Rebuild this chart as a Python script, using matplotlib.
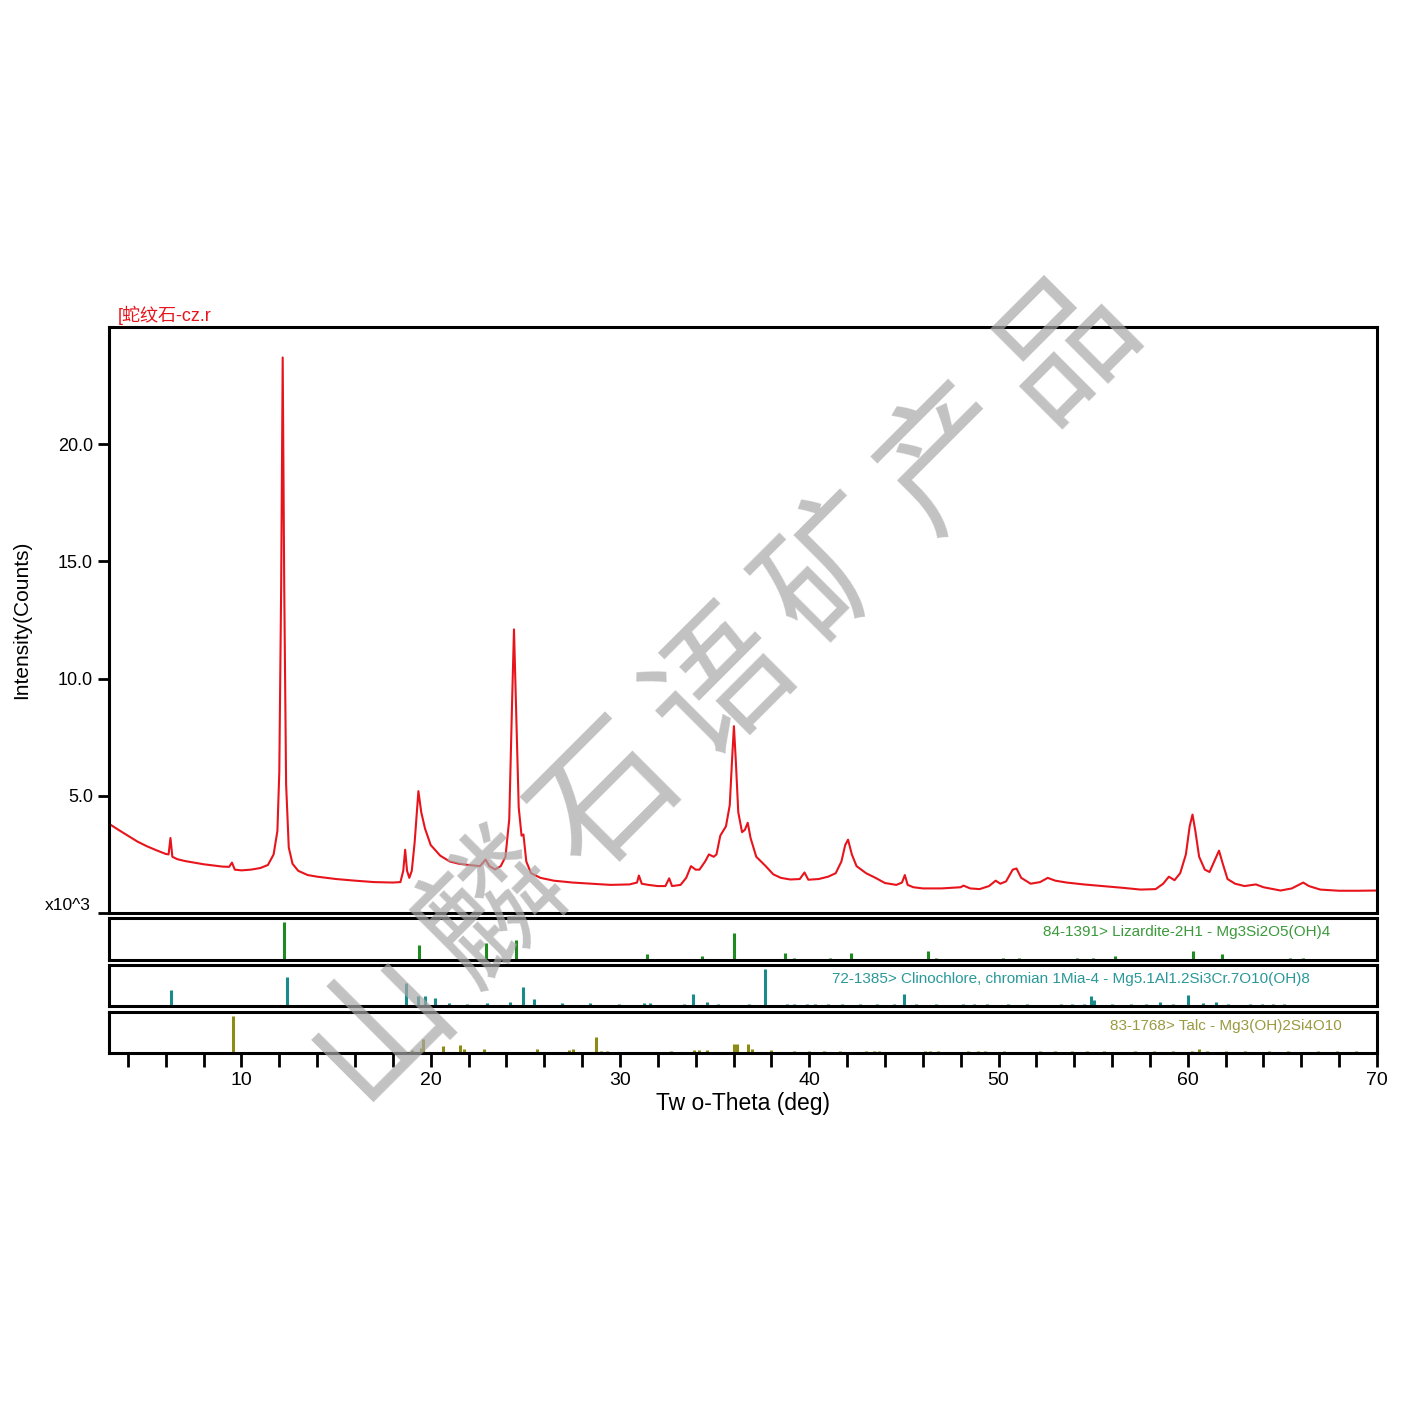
import numpy as np
import matplotlib
matplotlib.use("Agg")
import matplotlib.pyplot as plt

plt.rcParams['font.family'] = ['Liberation Sans', 'Noto Sans CJK SC', 'DejaVu Sans']

# measured pattern (2-theta in deg, intensity in x10^3 counts)
two_theta = [3.0, 3.5, 4.0, 4.5, 5.0, 5.5, 6.0, 6.15, 6.25, 6.35, 6.6, 7.0, 7.5, 8.0, 8.5, 9.0,
             9.35, 9.5, 9.65, 10.0, 10.5, 11.0, 11.4, 11.7, 11.9, 12.0, 12.1, 12.18, 12.26, 12.36,
             12.5, 12.7, 13.0, 13.5, 14.0, 15.0, 16.0, 17.0, 18.0, 18.4, 18.55, 18.65, 18.75, 18.87,
             19.0, 19.15, 19.35, 19.5, 19.7, 20.0, 20.5, 21.0, 21.5, 22.0, 22.6, 22.9, 23.1, 23.4,
             23.7, 23.95, 24.15, 24.3, 24.4, 24.5, 24.65, 24.8, 24.9, 25.05, 25.3, 25.8, 26.5, 27.5,
             28.5, 29.5, 30.5, 30.9, 31.0, 31.15, 31.5, 32.0, 32.4, 32.6, 32.75, 33.2, 33.5, 33.75,
             34.0, 34.2, 34.5, 34.7, 34.95, 35.1, 35.3, 35.6, 35.8, 35.92, 36.02, 36.12, 36.25, 36.45,
             36.6, 36.75, 36.9, 37.2, 37.7, 38.1, 38.5, 39.0, 39.5, 39.75, 39.95, 40.5, 41.0, 41.4,
             41.7, 41.9, 42.05, 42.25, 42.5, 43.0, 43.5, 44.0, 44.6, 44.9, 45.05, 45.2, 45.5, 46.0,
             47.0, 48.0, 48.15, 48.5, 49.0, 49.5, 49.85, 50.1, 50.4, 50.75, 50.95, 51.2, 51.7, 52.2,
             52.6, 53.0, 53.6, 54.5, 55.5, 56.5, 57.5, 58.3, 58.7, 59.0, 59.3, 59.6, 59.9, 60.1,
             60.25, 60.4, 60.6, 60.9, 61.15, 61.4, 61.65, 61.85, 62.1, 62.5, 63.0, 63.6, 64.0, 64.9,
             65.5, 65.9, 66.1, 66.4, 67.0, 68.0, 69.0, 70.0]
counts = [3.81, 3.55, 3.3, 3.05, 2.85, 2.68, 2.52, 2.5, 3.2, 2.4, 2.3, 2.22, 2.15, 2.08, 2.03, 1.98,
          1.97, 2.15, 1.85, 1.82, 1.85, 1.92, 2.05, 2.5, 3.5, 6.0, 14.0, 23.7, 14.0, 5.5,
          2.8, 2.1, 1.8, 1.62, 1.55, 1.45, 1.38, 1.32, 1.3, 1.32, 1.8, 2.7, 1.8, 1.5,
          1.8, 3.0, 5.2, 4.3, 3.6, 2.9, 2.45, 2.2, 2.1, 2.05, 2.0, 2.28, 2.0, 1.86,
          2.0, 2.4, 4.0, 9.0, 12.1, 9.0, 4.5, 3.3, 3.35, 2.2, 1.7, 1.5, 1.38, 1.3,
          1.25, 1.2, 1.22, 1.3, 1.6, 1.25, 1.2, 1.15, 1.15, 1.48, 1.15, 1.2, 1.5, 2.0,
          1.85, 1.85, 2.2, 2.5, 2.4, 2.5, 3.3, 3.7, 4.6, 6.5, 7.97, 6.5, 4.3, 3.45,
          3.55, 3.85, 3.2, 2.4, 2.0, 1.65, 1.5, 1.43, 1.45, 1.73, 1.42, 1.45, 1.55, 1.7,
          2.2, 2.9, 3.13, 2.5, 2.0, 1.7, 1.5, 1.28, 1.2, 1.3, 1.62, 1.2, 1.1, 1.05,
          1.05, 1.1, 1.17, 1.05, 1.02, 1.15, 1.38, 1.25, 1.35, 1.85, 1.9, 1.5, 1.25, 1.32,
          1.5, 1.38, 1.3, 1.22, 1.15, 1.08, 1.0, 1.02, 1.25, 1.55, 1.4, 1.7, 2.5, 3.7,
          4.2, 3.5, 2.4, 1.85, 1.75, 2.2, 2.66, 2.1, 1.45, 1.25, 1.15, 1.22, 1.1, 0.96,
          1.05, 1.22, 1.3, 1.15, 1.0, 0.95, 0.95, 0.96]

# reference patterns (position, relative intensity %)
liz_label = '84-1391> Lizardite-2H1 - Mg3Si2O5(OH)4'
liz_pos = [12.25, 19.38, 22.93, 24.5, 31.42, 33.78, 34.34, 36.0, 37.1, 38.7, 39.2, 41.1, 42.2,
           46.25, 46.7, 50.25, 51.07, 52.6, 53.0, 54.17, 55.0, 56.17, 58.8, 60.3, 61.8, 64.0,
           65.4, 66.1, 67.6, 67.9]
liz_int = [100, 40, 46, 52, 16, 3, 12, 73, 3, 20, 5, 5, 20, 24, 5, 5, 6, 4, 4, 6, 5, 10, 4, 24,
           15, 4, 5, 6, 4, 4]

clin_label = '72-1385> Clinochlore, chromian 1Mia-4 - Mg5.1Al1.2Si3Cr.7O10(OH)8'
clin_pos = [6.27, 12.43, 18.67, 19.32, 19.7, 20.25, 20.98, 21.93, 22.96, 24.2, 24.9, 25.47, 26.94,
            28.4, 29.95, 31.25, 31.6, 33.4, 33.85, 34.6, 35.2, 36.8, 37.65, 38.8, 39.2, 39.5, 39.9,
            40.3, 40.6, 41.0, 41.75, 42.7, 43.6, 44.5, 45.0, 45.66, 46.7, 48.1, 48.7, 49.4, 50.0,
            50.5, 50.9, 51.5, 52.9, 53.3, 53.6, 53.9, 54.2, 54.5, 54.9, 55.05, 56.0, 57.0, 57.8,
            58.55, 59.2, 60.0, 60.8, 61.5, 62.1, 63.3, 63.9, 64.5, 65.1, 66.4, 66.8, 67.6, 68.2,
            68.8, 69.4]
clin_int = [44, 80, 62, 27, 27, 22, 7, 5, 7, 10, 51, 18, 8,
            8, 5, 8, 7, 6, 32, 12, 6, 5, 100, 5, 6, 4, 6,
            5, 4, 6, 5, 5, 5, 5, 32, 6, 6, 5, 5, 5, 4,
            5, 4, 5, 4, 5, 4, 5, 4, 5, 27, 15, 5, 5, 5,
            10, 5, 29, 8, 10, 5, 5, 5, 5, 5, 4, 4, 4, 4,
            4, 4]

talc_label = '83-1768> Talc - Mg3(OH)2Si4O10'
talc_pos = [9.56, 19.02, 19.5, 19.6, 20.64, 21.56, 21.75, 22.83, 25.6, 27.3, 27.5, 28.73, 29.0,
            29.3, 32.7, 33.9, 34.2, 34.6, 36.0, 36.17, 36.75, 37.0, 37.97, 38.5, 39.2, 39.6, 40.0,
            40.4, 40.8, 41.2, 41.6, 41.9, 43.0, 43.4, 43.7, 46.1, 46.4, 46.8, 48.4, 48.9, 49.3,
            50.3, 52.2, 52.6, 53.0, 53.4, 53.9, 54.3, 54.7, 55.1, 55.6, 56.0, 57.2, 57.7, 58.2,
            58.7, 59.2, 59.7, 60.2, 60.6, 61.0, 61.5, 62.0, 62.5, 63.0, 63.6, 64.3, 64.8, 65.3,
            65.8, 66.9, 67.4, 67.9, 68.4, 68.9, 69.4]
talc_int = [100, 8, 15, 37, 20, 22, 12, 12, 12, 8, 10, 44, 6,
            6, 6, 8, 8, 8, 25, 25, 25, 10, 8, 4, 5, 4, 5,
            4, 5, 4, 5, 4, 6, 5, 6, 6, 5, 6, 5, 5, 5,
            5, 5, 4, 5, 4, 5, 4, 5, 4, 5, 4, 5, 4, 5,
            4, 5, 4, 6, 12, 5, 4, 5, 4, 5, 4, 5, 4, 5,
            4, 5, 4, 5, 4, 5, 4]

y_ticks = [0, 5, 10, 15, 20]
y_ticklabels = ['', '5.0', '10.0', '15.0', '20.0']
x_ticks = list(range(4, 71, 2))
x_ticklabels = [str(t) if t % 10 == 0 else '' for t in x_ticks]
watermark = '山麟石语矿产品'

fig = plt.figure(figsize=(14.04, 14.04), dpi=100)

def frame(a):
    for s in a.spines.values():
        s.set_linewidth(2.2)
        s.set_color('black')

# main pattern
ax = fig.add_axes([0.0776, 0.3497, 0.9032, 0.4174])
ax.plot(two_theta, counts, color='#e8141c', lw=1.5)
ax.set_xlim(3, 70)
ax.set_ylim(0, 25)
ax.set_xticks([])
ax.set_yticks(y_ticks)
ax.set_yticklabels(y_ticklabels)
ax.tick_params(axis='y', direction='out', length=8, width=2, labelsize=13, colors='black')
ax.set_ylabel('Intensity(Counts)', fontsize=15, labelpad=19)
frame(ax)
ax.text(0.007, 1.003, '[蛇纹石-cz.r', transform=ax.transAxes, color='#e8141c',
        fontsize=13, ha='left', va='bottom')
fig.text(45 / 1404, 1 - 905 / 1404, 'x10^3', fontsize=12.5, ha='left', va='center')

# stick panels
panels = [
    ([0.0776, 0.3162, 0.9032, 0.0300], liz_pos, liz_int, '#1f8a1f', '#3a9a3a', liz_label, 1330),
    ([0.0776, 0.2835, 0.9032, 0.0292], clin_pos, clin_int, '#1a8a8a', '#2a9898', clin_label, 1310),
    ([0.0776, 0.2500, 0.9032, 0.0292], talc_pos, talc_int, '#8c8c14', '#9a9a40', talc_label, 1342),
]
for i, (rect, pos, inten, c, tc, label, xr) in enumerate(panels):
    pa = fig.add_axes(rect)
    pa.vlines(pos, 0, inten, color=c, lw=2.2)
    pa.set_xlim(3, 70)
    pa.set_ylim(0, 112)
    pa.set_yticks([])
    frame(pa)
    pa.text((xr - 109) / (1377 - 109), 0.66, label, transform=pa.transAxes, color=tc,
            fontsize=11, ha='right', va='center')
    if i < 2:
        pa.set_xticks([])
    else:
        pa.set_xticks(x_ticks)
        pa.set_xticklabels(x_ticklabels)
        pa.tick_params(axis='x', direction='out', length=10, width=2, labelsize=14, pad=4)
        pa.set_xlabel('Tw o-Theta (deg)', fontsize=16.5, labelpad=2)

# watermark
x0, y0 = 380 / 1404, 1 - 1025 / 1404
x1, y1 = 1065 / 1404, 1 - 345 / 1404
for k, ch in enumerate(watermark):
    f = k / (len(watermark) - 1)
    fig.text(x0 + f * (x1 - x0), y0 + f * (y1 - y0), ch, family='Noto Sans CJK SC',
             fontsize=100, color='#a8a8a8', alpha=0.7,
             rotation=45, ha='center', va='center', zorder=10)

fig.savefig('out.png', dpi=100)
